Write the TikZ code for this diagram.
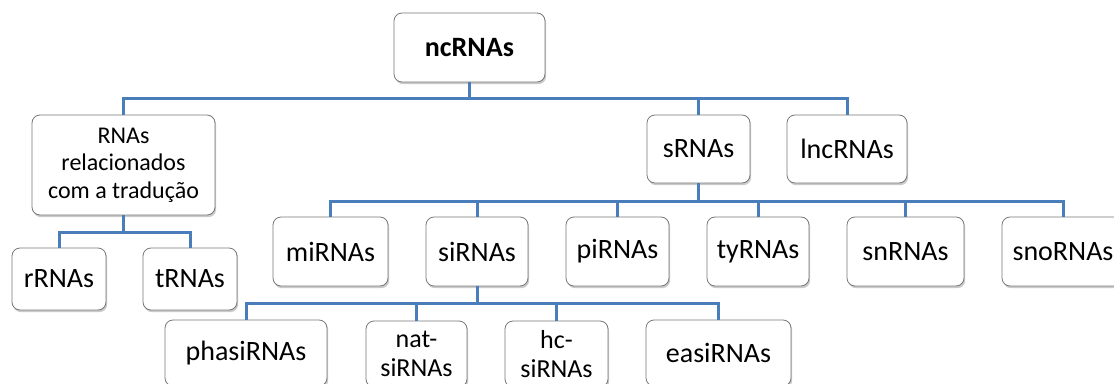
\documentclass[tikz,border=0pt]{standalone}
\usepackage{fontspec}
\setmainfont{Carlito}
\usetikzlibrary{shadows}
\definecolor{linkblue}{RGB}{74,126,187}
\definecolor{boxgray}{RGB}{120,120,120}
\tikzset{
  rnabox/.style={draw=boxgray, line width=0.8pt, fill=white, rounded corners=8pt,
    align=center, inner sep=2pt, font=\fontsize{28}{32}\selectfont,
    drop shadow={opacity=0.35, shadow xshift=1.2pt, shadow yshift=-2.2pt, fill=black!60}},
  smalltext/.style={font=\fontsize{24}{27.5}\selectfont},
  midtext/.style={font=\fontsize{26}{28.5}\selectfont},
  link/.style={draw=linkblue, line width=3pt}
}
\begin{document}
\begin{tikzpicture}[x=1pt,y=-1pt]
\clip (0,0) rectangle (1114,383);
\useasboundingbox (0,0) rectangle (1114,383);
% bus junctions
\coordinate (b1) at (469.5,98);
\coordinate (b2) at (698.5,201);
\coordinate (b3) at (123.5,232);
\coordinate (b4) at (477,303);
% boxes
\node[rnabox, minimum width=151pt, minimum height=69pt, font=\fontsize{28}{32}\selectfont\bfseries] (nc) at (469.5,47.5) {ncRNAs};
\node[rnabox, smalltext, minimum width=183pt, minimum height=100pt] (rna) at (123.5,165) {RNAs\\relacionados\\com a tradução};
\node[rnabox, minimum width=103pt, minimum height=68pt] (s) at (698.5,149) {sRNAs};
\node[rnabox, minimum width=120pt, minimum height=68pt] (lnc) at (847,149) {lncRNAs};
\node[rnabox, minimum width=94pt, minimum height=62pt] (r) at (59,279) {rRNAs};
\node[rnabox, minimum width=94pt, minimum height=62pt] (t) at (190,279) {tRNAs};
\node[rnabox, minimum width=115pt, minimum height=69pt] (mi) at (330.5,251.5) {miRNAs};
\node[rnabox, minimum width=102pt, minimum height=69pt] (si) at (477,251.5) {siRNAs};
\node[rnabox, minimum width=103pt, minimum height=69pt] (pi) at (617.5,251.5) {piRNAs};
\node[rnabox, minimum width=102pt, minimum height=69pt] (ty) at (758,251.5) {tyRNAs};
\node[rnabox, minimum width=117pt, minimum height=69pt] (sn) at (905.5,251.5) {snRNAs};
\node[rnabox, minimum width=122pt, minimum height=69pt] (sno) at (1063,251.5) {snoRNAs};
\node[rnabox, minimum width=162pt, minimum height=66pt] (phasi) at (246,353) {phasiRNAs};
\node[rnabox, midtext, minimum width=101pt, minimum height=66pt] (nat) at (416.5,354) {nat-\\siRNAs};
\node[rnabox, midtext, minimum width=103pt, minimum height=66pt] (hc) at (556.5,354) {hc-\\siRNAs};
\node[rnabox, minimum width=145pt, minimum height=66pt] (easi) at (718.5,353) {easiRNAs};
% links
\draw[link] (nc.south) -- (b1);
\draw[link] (rna.north) |- (b1) -| (lnc.north);
\draw[link] (b1) -| (s.north);
\draw[link] (rna.south) -- (b3);
\draw[link] (r.north) |- (b3) -| (t.north);
\draw[link] (s.south) -- (b2);
\draw[link] (mi.north) |- (b2) -| (sno.north);
\draw[link] (si.north) -- (si.north |- b2);
\draw[link] (pi.north) -- (pi.north |- b2);
\draw[link] (ty.north) -- (ty.north |- b2);
\draw[link] (sn.north) -- (sn.north |- b2);
\draw[link] (si.south) -- (b4);
\draw[link] (phasi.north) |- (b4) -| (easi.north);
\draw[link] (nat.north) -- (nat.north |- b4);
\draw[link] (hc.north) -- (hc.north |- b4);
\end{tikzpicture}
\end{document}
